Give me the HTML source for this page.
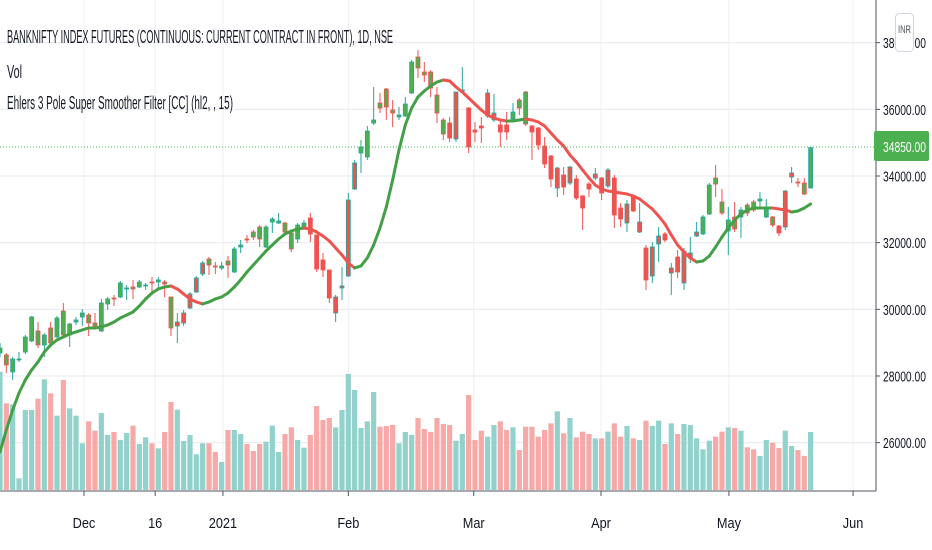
<!DOCTYPE html>
<html><head><meta charset="utf-8">
<style>
html,body{margin:0;padding:0;background:#fff;}
svg{display:block;font-family:"Liberation Sans",sans-serif;}
</style></head>
<body>
<svg id="chart" width="932" height="550" viewBox="0 0 932 550" xmlns="http://www.w3.org/2000/svg">
<g id="grid"></g>
<g id="vol"></g>
<g id="candles"></g>
<g id="filter"></g>
<line x1="0" x2="876" y1="147" y2="147" stroke="#4caf50" stroke-width="1" stroke-dasharray="1,2"/>
<rect x="876" y="0" width="56" height="550" fill="#fff"/>
<line x1="876" y1="0" x2="876" y2="491" stroke="#50535e" stroke-width="1"/>
<line x1="0" y1="491" x2="876" y2="491" stroke="#50535e" stroke-width="1"/>
<g id="yaxis"></g>
<g id="xaxis"></g>
<g>
<rect x="874" y="131" width="55" height="30" rx="2" fill="#4caf50"/>
<text x="883" y="152" font-size="14.5" fill="#fff" textLength="43" lengthAdjust="spacingAndGlyphs">34850.00</text>
</g>
<g>
<rect x="895.5" y="13.5" width="18" height="38" rx="4" fill="#fff" stroke="#d1d4dc"/>
<text x="898" y="33" font-size="11" fill="#50535e" textLength="13" lengthAdjust="spacingAndGlyphs">INR</text>
</g>
<text x="7" y="43" font-size="18" fill="#131722" textLength="386" lengthAdjust="spacingAndGlyphs">BANKNIFTY INDEX FUTURES (CONTINUOUS: CURRENT CONTRACT IN FRONT), 1D, NSE</text>
<text x="7" y="78" font-size="18" fill="#131722" textLength="15" lengthAdjust="spacingAndGlyphs">Vol</text>
<text x="7" y="109" font-size="18" fill="#131722" textLength="226" lengthAdjust="spacingAndGlyphs">Ehlers 3 Pole Super Smoother Filter [CC] (hl2, , 15)</text>
</svg>
<script>
const opens=[28690,28630,28120,28480,28720,29050,29350,28930,29440,29170,29950,29230,29620,29770,29830,29590,29350,30160,30340,30370,30610,30670,30670,30700,30820,30820,30820,30370,29500,29590,30040,30520,31060,31510,31300,31240,31450,31120,31870,32110,32320,32470,31870,32620,32590,32590,32290,32110,32470,32740,32230,31480,31180,29890,30640,31000,33610,34690,34570,35590,36190,36610,35980,35770,35800,36490,37570,37120,37120,36430,35680,35590,35110,36550,36040,35380,35500,35800,35680,35530,35530,35710,36280,36520,35500,35440,34900,34600,33640,34030,33790,33910,33400,33760,33940,33940,33700,33940,33040,32590,33370,32320,31840,31000,31960,32260,31090,31570,30790,31540,32200,32260,32860,33940,33220,32350,32770,32770,33130,33220,33250,32770,32770,32500,32470,33970,33820,33790,33640];
const highs=[28990,28690,28570,28720,29230,29800,29620,29290,29620,29800,30190,29590,29770,30010,29890,29890,30310,30370,30430,30850,30730,30880,30880,30790,30970,30970,30880,30370,29890,29980,30520,31000,31450,31570,31420,31420,31600,31870,32080,32230,32380,32530,32530,32770,32890,32620,32380,32590,32680,32890,32230,31690,31180,30430,31270,33490,34480,35080,35500,36670,36490,36640,36280,36070,36370,37480,37780,37420,37180,36670,35740,35770,36520,37270,36070,35620,35770,36610,36460,35710,35920,36190,36340,36550,35530,35470,35170,34630,34270,34270,34300,34030,33430,33820,34240,33970,34240,34030,33190,33280,33430,33190,31930,32020,32470,32320,31390,31780,31840,32170,32620,32830,33790,34330,33610,33070,33220,33070,33190,33280,33520,33310,32800,32530,33580,34270,33940,33940,34870];
const lows=[28570,28090,27880,28420,28660,29020,28840,28570,28870,29140,29170,28870,29530,29500,29200,29470,29320,29980,30100,30340,30280,30310,30640,30580,30520,30640,30370,29200,28990,29500,30010,30490,31000,31030,31060,31180,30940,31090,31690,31990,32080,31870,31840,32290,32560,32290,31720,31990,32380,32020,31120,30970,30190,29620,30280,30970,33580,34090,34480,35530,35890,35680,35470,35680,35770,36460,36940,36820,36370,35590,35080,35020,35020,36490,34690,35020,34990,35740,35620,34870,35080,35620,35830,35500,34480,34780,34240,33670,33370,33430,33730,33280,32380,33370,33880,33280,33640,32440,32470,32320,32920,32290,30580,30790,31420,32020,30430,30940,30580,31390,32170,32230,32830,33370,32830,31630,32320,32140,32800,32920,33070,32740,32470,32200,32380,33790,33670,33430,33640];
const closes=[28840,28330,28510,28510,29170,29770,28930,29230,28990,29740,29230,29560,29680,29890,29590,29500,30190,30310,30310,30790,30640,30610,30820,30730,30790,30880,30760,29440,29620,29890,30460,30940,31390,31330,31270,31300,31330,31810,31930,32080,32170,32110,32470,32710,32650,32320,31810,32530,32590,32260,31210,31180,30340,30370,30700,33280,34390,34870,35350,35680,36040,36070,35890,35830,36160,37420,37240,37030,36640,35890,35260,35140,36520,36580,34870,35320,35440,36490,35890,35320,35320,35920,36040,35560,35320,34930,34360,33910,34240,33670,34270,33340,33040,33610,34060,33490,34180,32830,32710,33160,32950,32620,30880,31870,32200,32080,31240,31120,31750,31690,32320,32770,33730,33760,32890,32680,32410,32980,32890,32980,33310,33010,32530,32290,33550,34090,33790,33460,34850];
const volumes=[355,260,257,35,240,240,274,332,290,223,330,245,223,140,206,178,231,165,174,150,171,193,138,158,140,125,174,264,241,147,165,107,140,140,114,84,180,180,168,138,117,138,145,193,114,168,188,150,127,165,252,210,216,188,240,348,300,186,206,294,190,192,195,140,174,165,216,183,174,216,198,195,148,168,285,150,178,160,195,206,180,188,120,190,190,160,180,200,236,170,216,158,175,168,155,155,175,200,160,192,155,150,208,192,208,138,200,168,198,195,155,122,148,160,175,188,186,178,128,122,102,150,142,126,178,132,120,102,174];
const filterVals=[25720,26380,26980,27490,27880,28180,28420,28720,28930,29080,29170,29260,29320,29380,29440,29440,29470,29530,29620,29740,29830,29920,30100,30310,30490,30610,30670,30700,30610,30460,30310,30220,30160,30220,30310,30370,30490,30670,30880,31120,31330,31540,31750,31930,32110,32260,32350,32410,32440,32410,32320,32200,32050,31840,31630,31390,31240,31300,31540,31930,32440,33070,33880,34780,35530,36040,36370,36550,36700,36820,36880,36850,36670,36520,36340,36160,35980,35830,35740,35680,35650,35650,35680,35710,35680,35620,35500,35290,35080,34900,34630,34420,34180,33940,33730,33610,33550,33520,33490,33460,33400,33310,33160,33010,32800,32560,32230,31930,31720,31540,31420,31450,31600,31870,32170,32440,32680,32860,32980,33040,33040,33040,33040,33010,32980,32920,32950,33040,33160];
const priceTicks=[26000,28000,30000,32000,34000,36000,38000];
const dateLabels=["Dec","16","2021","Feb","Mar","Apr","May","Jun"];
const datePos=[13.26,24.5,35.2,55,74.8,94.9,115.1,134.7];

const NS="http://www.w3.org/2000/svg";
const STEP=6.333;
function xS(i){return STEP*i;}
function yS(p){return 176-(p-34000)*0.03333;}
function vS(v){return v/3;}
const VBASE=490;
function mk(tag,attrs,parent){const e=document.createElementNS(NS,tag);for(const k in attrs)e.setAttribute(k,attrs[k]);parent.appendChild(e);return e;}

const grid=document.getElementById('grid');
priceTicks.forEach(p=>{
  const l=mk('line',{x1:0,x2:876,y1:yS(p),y2:yS(p),stroke:'#e6e9ee','stroke-width':1},grid);
  
  
});
datePos.forEach(d=>{
  const l=mk('line',{x1:xS(d),x2:xS(d),y1:0,y2:491,stroke:'#eef0f3','stroke-width':1},grid);
  
  
});

const vol=document.getElementById('vol');
volumes.forEach((v,i)=>{
  const up=closes[i]>=opens[i];
  const h=vS(v);
  const r=mk('rect',{x:xS(i)-2.6,y:VBASE-h,width:5.2,height:h,fill:up?'#92d2cc':'#f7a9a7'},vol);
  
  
});

const cg=document.getElementById('candles');
closes.forEach((c,i)=>{
  const up=c>=opens[i];
  const rising=i===0||filterVals[i]>=filterVals[i-1];
  const edge=up?'#26a69a':'#ef5350';
  const fill=rising?'#4caf50':'#ef5350';
  const x=xS(i);
  const g=mk('g',{},cg);
  
  
  mk('line',{x1:x,x2:x,y1:yS(highs[i]),y2:yS(lows[i]),stroke:edge,'stroke-width':1},g);
  const t=Math.min(yS(opens[i]),yS(c)),b=Math.max(yS(opens[i]),yS(c));
  mk('rect',{x:x-2,y:t,width:4,height:Math.max(1,b-t),fill:fill,stroke:edge,'stroke-width':0.8},g);
});

const fg=document.getElementById('filter');
for(let i=1;i<filterVals.length;i++){
  const rising=filterVals[i]>=filterVals[i-1];
  const s=mk('line',{x1:xS(i-1),y1:yS(filterVals[i-1]),x2:xS(i),y2:yS(filterVals[i]),stroke:rising?'#43a047':'#ef5350','stroke-width':3,'stroke-linecap':'round'},fg);
  
  
}

const ya=document.getElementById('yaxis');
priceTicks.forEach(p=>{
  const y=yS(p);
  const tk=mk('line',{x1:876,x2:880,y1:y,y2:y,stroke:'#50535e'},ya);
  
  
  const t=mk('text',{x:883,y:y+5.5,'font-size':14.5,fill:'#131722',textLength:43,lengthAdjust:'spacingAndGlyphs'},ya);
  t.textContent=p.toFixed(2);
  
  
});

const xa=document.getElementById('xaxis');
dateLabels.forEach((lab,k)=>{
  const x=xS(datePos[k]);
  const tk=mk('line',{x1:x,x2:x,y1:491,y2:496,stroke:'#50535e'},xa);
  
  
  const t=mk('text',{x:x,y:528,'font-size':15,fill:'#131722','text-anchor':'middle',transform:'translate('+x+' 0) scale(0.85 1) translate('+(-x)+' 0)'},xa);
  t.textContent=lab;
  
  
});
</script>
</body></html>
